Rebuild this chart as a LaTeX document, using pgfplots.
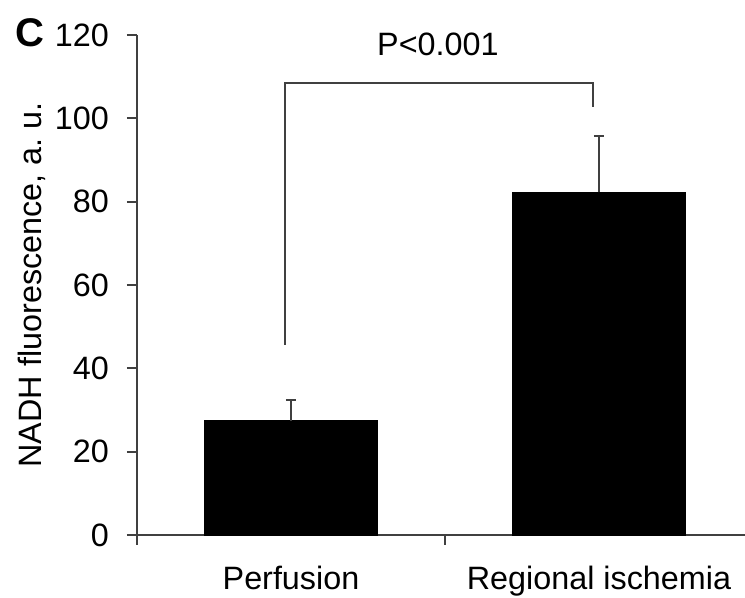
\documentclass[border=0pt]{standalone}
\usepackage{pgfplots}
\pgfplotsset{compat=1.18}
\usepackage{fontspec}
\setmainfont{Liberation Sans}
\definecolor{axgray}{HTML}{404040}

\begin{document}
\fontsize{9.7}{11.5}\selectfont
\begin{tikzpicture}
  \begin{axis}[
      at={(41.1pt,18.9pt)}, anchor=south west,
      scale only axis,
      width=182.4pt, height=150pt,
      ymin=0, ymax=120,
      xmin=-0.5, xmax=1.474,
      axis lines*=left,
      axis line style={axgray, line width=0.6pt},
      ytick={0,20,...,120},
      tick align=outside,
      major tick length=3pt,
      minor tick length=3pt,
      tick style={axgray, line width=0.6pt},
      xtick={0,1},
      xticklabels={Perfusion, Regional ischemia},
      major x tick style={draw=none},
      minor xtick={-0.5,0.5},
      xticklabel style={yshift=-3pt},
      yticklabel style={xshift=-2pt},
      /pgf/number format/assume math mode=true,
      ylabel={NADH fluorescence, a.\ u.},
      ylabel style={at={(axis description cs:0,0.5)}, anchor=south, yshift=24pt},
      clip=false,
      ybar,
      bar width=51.9pt,
    ]
    \addplot[fill=black, draw=black,
      error bars/.cd, y dir=plus, y explicit,
      error bar style={axgray, line width=0.6pt},
      error mark options={rotate=90, mark size=1.5pt, axgray, line width=0.6pt}]
      coordinates {
        (0,27.4) +- (0,5.0)
        (1,82.2) +- (0,13.6)
      };
    \draw[axgray, line width=0.6pt] (axis cs:-0.02,45.6) -- (axis cs:-0.02,108.5)
      -- (axis cs:0.98,108.5) -- (axis cs:0.98,102.7);
    \node at (axis cs:0.477,117.8) {P<0.001};
  \end{axis}
  \node[font=\fontsize{12}{14}\bfseries\selectfont] at (9pt,169.6pt) {C};
  \pgfresetboundingbox
  \useasboundingbox (0,0) rectangle (223.5pt,179.4pt);
\end{tikzpicture}
\end{document}
